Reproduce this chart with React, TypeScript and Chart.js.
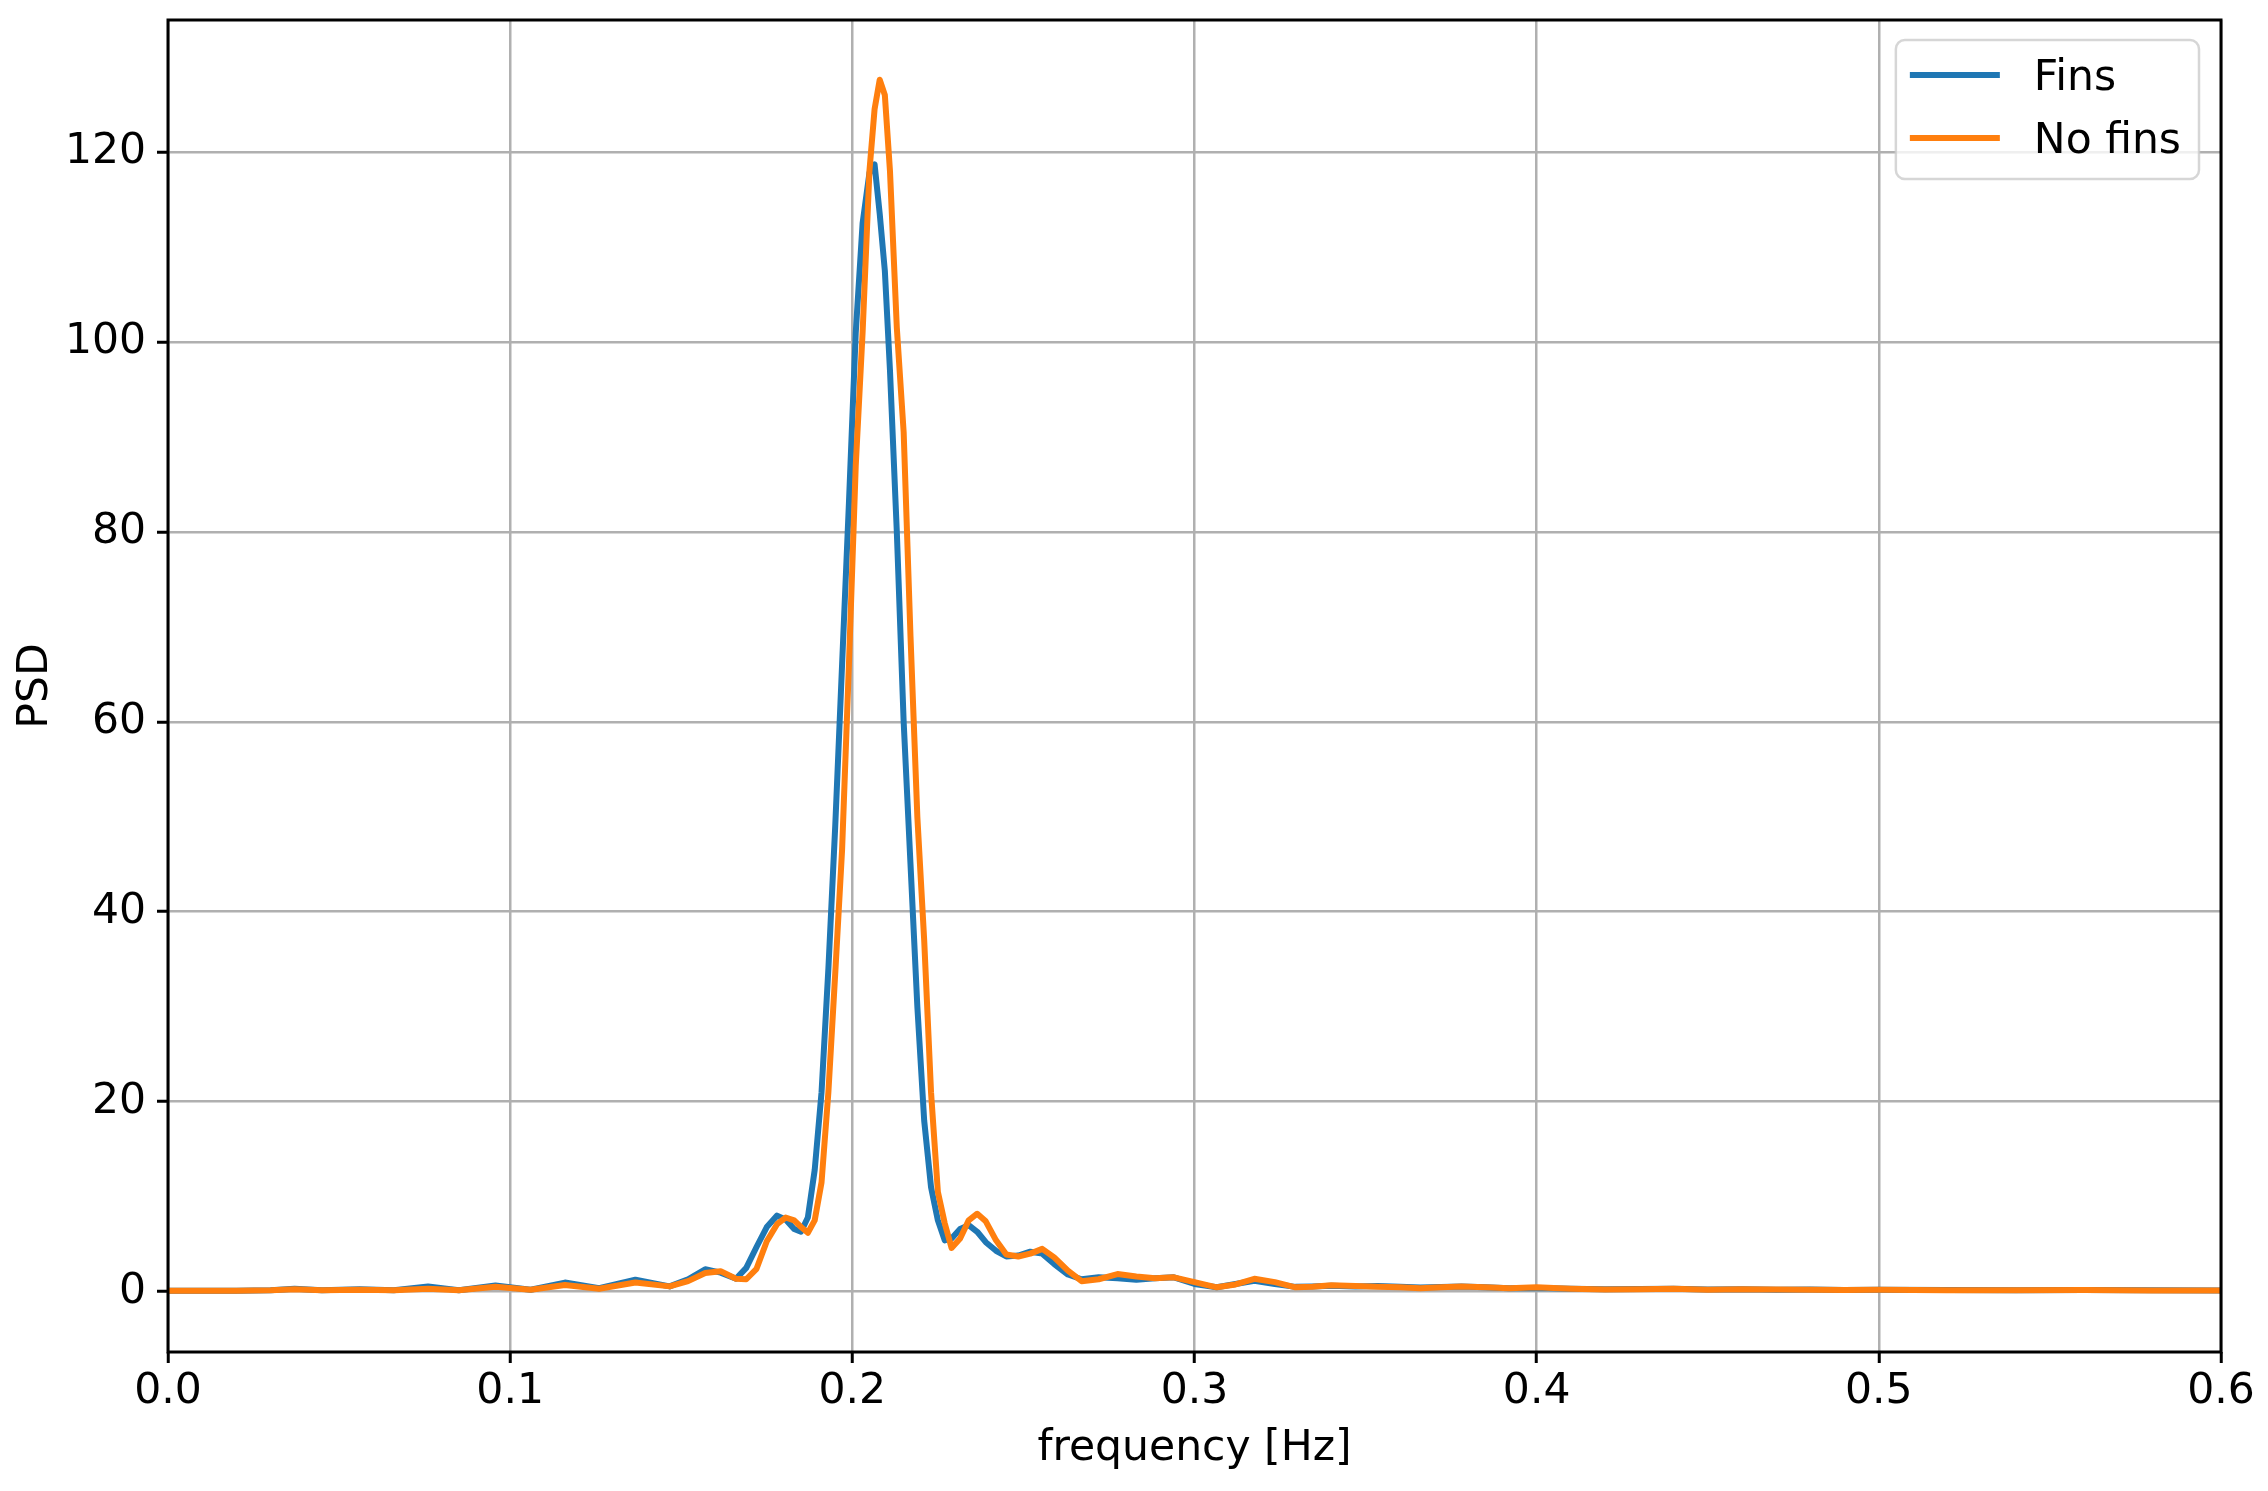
import React, { useEffect, useRef } from "react";
import { Chart, registerables } from "chart.js";

Chart.register(...registerables);

// ---- data ----
const freq = [
  0, 0.01, 0.02, 0.03, 0.037, 0.045, 0.056, 0.066, 0.076, 0.085,
  0.0957, 0.106, 0.116, 0.126, 0.1366, 0.1466, 0.152, 0.157, 0.1615, 0.166,
  0.169, 0.172, 0.175, 0.178, 0.1805, 0.183, 0.185, 0.187, 0.189, 0.191,
  0.193, 0.195, 0.197, 0.199, 0.201, 0.203, 0.205, 0.2065, 0.208, 0.2095,
  0.211, 0.213, 0.215, 0.217, 0.219, 0.221, 0.223, 0.225, 0.227, 0.229,
  0.2315, 0.234, 0.2365, 0.239, 0.242, 0.245, 0.2485, 0.252, 0.2555, 0.259,
  0.263, 0.267, 0.272, 0.2775, 0.283, 0.2885, 0.294, 0.3, 0.3065, 0.312,
  0.3175, 0.3235, 0.3295, 0.3345, 0.34, 0.347, 0.3535, 0.36, 0.366, 0.372,
  0.378, 0.385, 0.392, 0.4, 0.41, 0.42, 0.43, 0.44, 0.45, 0.46,
  0.47, 0.48, 0.49, 0.5, 0.52, 0.54, 0.56, 0.58, 0.6,
];

const finsPsd = [
  0.1, 0.1, 0.1, 0.15, 0.3, 0.15, 0.25, 0.15, 0.55, 0.15,
  0.65, 0.2, 0.95, 0.35, 1.25, 0.55, 1.3, 2.35, 2.0, 1.35,
  2.5, 4.7, 6.8, 8.0, 7.6, 6.6, 6.3, 7.8, 12.8, 21,
  34, 49, 66, 83, 101, 112.5, 117.8, 118.7, 113.5, 107.5,
  97, 80, 60, 45, 30, 18, 11, 7.5, 5.4, 5.6,
  6.6, 7.0, 6.3, 5.2, 4.3, 3.7, 3.8, 4.2, 4.0, 2.9,
  1.8, 1.3, 1.5, 1.4, 1.25, 1.4, 1.5, 0.8, 0.45, 0.8,
  1.15, 0.8, 0.5, 0.55, 0.62, 0.55, 0.58, 0.5, 0.42, 0.48,
  0.55, 0.45, 0.35, 0.38, 0.3, 0.25, 0.28, 0.3, 0.22, 0.25,
  0.2, 0.22, 0.18, 0.2, 0.17, 0.15, 0.16, 0.13, 0.12,
];

const noFinsPsd = [
  0.1, 0.1, 0.1, 0.15, 0.25, 0.15, 0.2, 0.15, 0.3, 0.15,
  0.5, 0.2, 0.7, 0.3, 0.95, 0.55, 1.1, 1.95, 2.15, 1.35,
  1.3, 2.4, 5.3, 7.1, 7.8, 7.5, 6.8, 6.2, 7.5, 11.5,
  21, 33.5, 46.5, 66, 87, 101, 118, 124.5, 127.6, 126,
  118, 101.5, 90.5, 69, 50, 37, 21, 10.5, 7.2, 4.6,
  5.6, 7.5, 8.2, 7.4, 5.4, 3.9, 3.7, 4.0, 4.5, 3.6,
  2.2, 1.1, 1.3, 1.85, 1.6, 1.4, 1.5, 1.0, 0.45, 0.75,
  1.35, 1.0, 0.45, 0.5, 0.66, 0.6, 0.5, 0.45, 0.35, 0.45,
  0.55, 0.45, 0.35, 0.45, 0.3, 0.22, 0.25, 0.3, 0.2, 0.25,
  0.22, 0.2, 0.18, 0.2, 0.15, 0.15, 0.16, 0.12, 0.12,
];

const seriesLabels = ["Fins", "No fins"];
const xTicks = [0, 0.1, 0.2, 0.3, 0.4, 0.5, 0.6];
const yTicks = [0, 20, 40, 60, 80, 100, 120];
const xLabel = "frequency [Hz]";
const yLabel = "PSD";

// ---- styles ----
const COLORS = ["#1f77b4", "#ff7f0e"];
const FONT = "DejaVu Sans";
const FS = 42.5;
const LW = 6;
const W = 2268;
const H = 1491;

const frameLegendPlugin = {
  id: "frameLegend",
  afterDatasetsDraw(chart: any) {
    const { ctx, chartArea: a } = chart;
    ctx.save();
    // spines
    ctx.strokeStyle = "#000";
    ctx.lineWidth = 3;
    ctx.strokeRect(a.left, a.top, a.right - a.left, a.bottom - a.top);

    // legend (matplotlib style, upper right)
    ctx.font = `${FS}px "${FONT}"`;
    const ds = chart.data.datasets;
    let maxW = 0;
    ds.forEach((d: any) => {
      maxW = Math.max(maxW, ctx.measureText(d.label).width);
    });
    const boxW = 138 + maxW + 18;
    const boxH = 139;
    const boxRight = a.right - 22;
    const boxLeft = boxRight - boxW;
    const boxTop = a.top + 20;
    const r = 9;
    ctx.beginPath();
    ctx.moveTo(boxLeft + r, boxTop);
    ctx.lineTo(boxRight - r, boxTop);
    ctx.arcTo(boxRight, boxTop, boxRight, boxTop + r, r);
    ctx.lineTo(boxRight, boxTop + boxH - r);
    ctx.arcTo(boxRight, boxTop + boxH, boxRight - r, boxTop + boxH, r);
    ctx.lineTo(boxLeft + r, boxTop + boxH);
    ctx.arcTo(boxLeft, boxTop + boxH, boxLeft, boxTop + boxH - r, r);
    ctx.lineTo(boxLeft, boxTop + r);
    ctx.arcTo(boxLeft, boxTop, boxLeft + r, boxTop, r);
    ctx.closePath();
    ctx.fillStyle = "rgba(255,255,255,0.8)";
    ctx.fill();
    ctx.strokeStyle = "rgba(204,204,204,0.8)";
    ctx.lineWidth = 2.5;
    ctx.stroke();

    ds.forEach((d: any, i: number) => {
      const ly = boxTop + 35 + i * 63;
      ctx.beginPath();
      ctx.strokeStyle = d.borderColor;
      ctx.lineWidth = LW;
      ctx.lineCap = "butt";
      ctx.moveTo(boxLeft + 14, ly);
      ctx.lineTo(boxLeft + 104, ly);
      ctx.stroke();
      ctx.fillStyle = "#000";
      ctx.textBaseline = "alphabetic";
      ctx.textAlign = "left";
      ctx.fillText(d.label, boxLeft + 138, ly + 15);
    });
    ctx.restore();
  },
};

export default function App() {
  const ref = useRef<HTMLCanvasElement | null>(null);

  useEffect(() => {
    if (!ref.current) return;
    const series = [finsPsd, noFinsPsd];
    const chart = new Chart(ref.current, {
      type: "line",
      data: {
        datasets: series.map((vals, i) => ({
          label: seriesLabels[i],
          data: freq.map((f, k) => ({ x: f, y: vals[k] })),
          borderColor: COLORS[i],
          backgroundColor: COLORS[i],
          borderWidth: LW,
          pointRadius: 0,
          pointHoverRadius: 0,
          tension: 0,
          fill: false,
          borderJoinStyle: "round" as const,
          order: series.length - i,
        })),
      },
      options: {
        responsive: false,
        animation: false,
        devicePixelRatio: 1,
        events: [],
        layout: { padding: { top: 20, right: 47, left: 0, bottom: 0 } },
        plugins: {
          legend: { display: false },
          tooltip: { enabled: false },
          title: { display: false },
        },
        scales: {
          x: {
            type: "linear",
            min: 0,
            max: 0.6,
            afterBuildTicks: (s: any) => {
              s.ticks = xTicks.map((v) => ({ value: v }));
            },
            afterFit: (s: any) => {
              s.height = 139;
              s.paddingLeft = 0;
              s.paddingRight = 0;
            },
            ticks: {
              callback: (v: any) => Number(v).toFixed(1),
              font: { family: FONT, size: FS },
              color: "#000",
              padding: 3,
              maxRotation: 0,
              autoSkip: false,
            },
            grid: {
              color: "#b0b0b0",
              lineWidth: 2.5,
              tickColor: "#000",
              tickWidth: 3,
              tickLength: 11,
              drawTicks: true,
            },
            border: { display: false },
            title: {
              display: true,
              text: xLabel,
              font: { family: FONT, size: FS },
              color: "#000",
              padding: { top: 0, bottom: 17 },
            },
          },
          y: {
            type: "linear",
            min: -6.36,
            max: 133.9,
            afterBuildTicks: (s: any) => {
              s.ticks = yTicks.map((v) => ({ value: v }));
            },
            afterFit: (s: any) => {
              s.width = 168;
              s.paddingTop = 0;
              s.paddingBottom = 0;
            },
            ticks: {
              callback: (v: any) => String(v),
              font: { family: FONT, size: FS },
              color: "#000",
              padding: 11,
              autoSkip: false,
            },
            grid: {
              color: "#b0b0b0",
              lineWidth: 2.5,
              tickColor: "#000",
              tickWidth: 3,
              tickLength: 11,
              drawTicks: true,
            },
            border: { display: false },
            title: {
              display: true,
              text: yLabel,
              font: { family: FONT, size: FS },
              color: "#000",
              padding: { top: 10, bottom: 0 },
            },
          },
        },
      },
      plugins: [frameLegendPlugin],
    } as any);
    return () => chart.destroy();
  }, []);

  return (
    <div
      style={{
        position: "fixed",
        left: 0,
        top: 0,
        width: W,
        height: H,
        background: "#fff",
      }}
    >
      <canvas ref={ref} width={W} height={H} style={{ width: W, height: H, display: "block" }} />
    </div>
  );
}
